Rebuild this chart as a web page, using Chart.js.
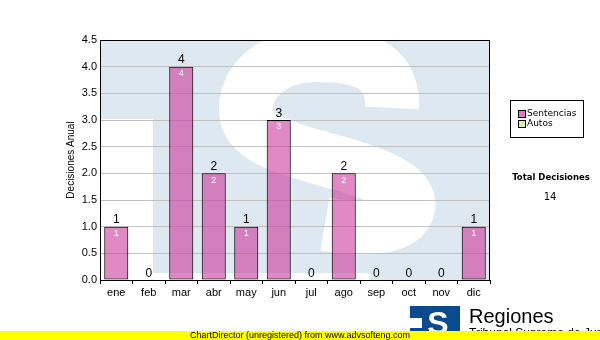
<!DOCTYPE html>
<html>
<head>
<meta charset="utf-8">
<script src="https://cdn.jsdelivr.net/npm/chart.js@4.4.1/dist/chart.umd.min.js"></script>
<style>
  body { margin: 0; background: #fff; }
  canvas { display: block; }
</style>
</head>
<body>
<canvas id="chart" width="600" height="340"></canvas>
<script>
const MONTHS = ['ene', 'feb', 'mar', 'abr', 'may', 'jun', 'jul', 'ago', 'sep', 'oct', 'nov', 'dic'];
const SENTENCIAS = [1, 0, 4, 2, 1, 3, 0, 2, 0, 0, 0, 1];
const SERIES_NAMES = ['Sentencias', 'Autos'];
const SERIES_COLORS = ['#e07cc0', '#d8f0a0'];
const Y_MAX = 4.5;
const Y_STEP = 0.5;
const Y_TITLE = 'Decisiones Anual';
const TOTAL_LABEL = 'Total Decisiones';
const FOOTER = 'ChartDirector (unregistered) from www.advsofteng.com';

const SANS = '"Liberation Sans", Arial, sans-serif';
const VERDANA = '"DejaVu Sans", Verdana, sans-serif';

// background watermark (big S logo) behind the grid
const watermark = {
  id: 'watermark',
  beforeDraw(chart) {
    const { ctx, chartArea: a } = chart;
    ctx.save();
    ctx.fillStyle = '#fff';
    ctx.fillRect(0, 0, chart.width, chart.height);
    ctx.beginPath();
    ctx.rect(a.left, a.top, a.right - a.left, a.bottom - a.top);
    ctx.clip();
    ctx.fillStyle = '#dee8f1';
    ctx.fillRect(a.left, a.top, a.right - a.left, a.bottom - a.top);
    ctx.fillStyle = '#fff';
    ctx.fillRect(a.left, 119, 53, a.bottom - 119);
    ctx.fillRect(a.left, 273, 270, a.bottom - 273);
    ctx.strokeStyle = '#fff';
    ctx.lineWidth = 54;
    ctx.beginPath();
    ctx.moveTo(392, 108);
    ctx.bezierCurveTo(394, 62, 356, 55, 318, 55);
    ctx.bezierCurveTo(272, 55, 244, 82, 246, 112);
    ctx.bezierCurveTo(248, 140, 292, 150, 335, 162);
    ctx.bezierCurveTo(385, 176, 412, 190, 408, 208);
    ctx.bezierCurveTo(404, 226, 372, 232, 325, 224);
    ctx.stroke();
    ctx.restore();
  }
};

const extras = {
  id: 'extras',
  afterDatasetsDraw(chart) {
    const { ctx, chartArea: a } = chart;
    const meta = chart.getDatasetMeta(0);
    ctx.save();
    ctx.textAlign = 'center';
    ctx.textBaseline = 'middle';
    meta.data.forEach((bar, i) => {
      const v = SENTENCIAS[i];
      ctx.fillStyle = '#000';
      ctx.font = '12px ' + SANS;
      ctx.fillText(String(v), bar.x, bar.y - 6.5);
      if (v > 0) {
        ctx.fillStyle = '#fff';
        ctx.font = '9px ' + SANS;
        ctx.fillText(String(v), bar.x, bar.y + 7);
      }
    });

    // plot border
    ctx.strokeStyle = '#000';
    ctx.lineWidth = 1;
    ctx.strokeRect(a.left + 0.5, a.top + 0.5, a.right - a.left - 1, a.bottom - a.top);

    // legend
    ctx.strokeRect(510.5, 100.5, 73, 37);
    ctx.textAlign = 'left';
    ctx.font = '9px ' + VERDANA;
    SERIES_NAMES.forEach((name, i) => {
      const y = 114 + i * 10;
      ctx.fillStyle = SERIES_COLORS[i];
      ctx.fillRect(518, y - 3, 7, 7);
      ctx.strokeRect(518.5, y - 3.5, 7, 7);
      ctx.fillStyle = '#000';
      ctx.fillText(name, 527, y);
    });

    // total
    const total = SENTENCIAS.reduce((s, v) => s + v, 0);
    ctx.textAlign = 'center';
    ctx.font = 'bold 8.5px ' + VERDANA;
    ctx.fillText(TOTAL_LABEL, 551, 178);
    ctx.font = '10px ' + VERDANA;
    ctx.fillText(String(total), 550, 197);

    // logo
    ctx.fillStyle = '#0b4a8c';
    ctx.fillRect(410, 306, 50, 34);
    ctx.fillStyle = '#fff';
    ctx.fillRect(410, 318, 12, 10);
    ctx.font = 'bold 32px ' + SANS;
    ctx.fillText('S', 438, 325);
    ctx.fillStyle = '#000';
    ctx.textAlign = 'left';
    ctx.font = '20px ' + SANS;
    ctx.fillText('Regiones', 469, 317);
    ctx.font = '12px ' + SANS;
    ctx.fillText('Tribunal Supremo de Justicia', 469, 334);

    // footer bar
    ctx.fillStyle = '#ffff00';
    ctx.fillRect(0, 331, 600, 9);
    ctx.fillStyle = '#000';
    ctx.font = '9px ' + SANS;
    ctx.fillText(FOOTER, 190, 335.5);
    ctx.restore();
  }
};

new Chart(document.getElementById('chart'), {
  type: 'bar',
  data: {
    labels: MONTHS,
    datasets: [{
      label: SERIES_NAMES[0],
      data: SENTENCIAS,
      backgroundColor: 'rgba(204, 51, 153, 0.58)',
      borderColor: '#000',
      borderWidth: 1,
      borderSkipped: false,
      barPercentage: 0.74,
      categoryPercentage: 1
    }]
  },
  options: {
    responsive: false,
    animation: false,
    devicePixelRatio: 1,
    layout: { padding: { top: 40, right: 110, left: 0, bottom: 0 } },
    plugins: {
      legend: { display: false },
      tooltip: { enabled: false }
    },
    scales: {
      x: {
        offset: true,
        grid: { drawOnChartArea: false, tickLength: 4, tickColor: '#000' },
        border: { color: '#000' },
        ticks: { color: '#000', padding: 2, font: { family: SANS, size: 11 } },
        afterFit: (scale) => { scale.height = 60; }
      },
      y: {
        min: 0,
        max: Y_MAX,
        grid: { color: '#c0c0c0', drawTicks: false },
        border: { color: '#000' },
        ticks: {
          stepSize: Y_STEP,
          padding: 3,
          color: '#000',
          font: { family: SANS, size: 11 },
          callback: (v) => v.toFixed(1)
        },
        title: {
          display: true,
          text: Y_TITLE,
          color: '#000',
          font: { family: SANS, size: 10 },
          padding: { top: 65, bottom: 0 }
        },
        afterFit: (scale) => { scale.width = 100; }
      }
    }
  },
  plugins: [watermark, extras]
});
</script>
</body>
</html>
